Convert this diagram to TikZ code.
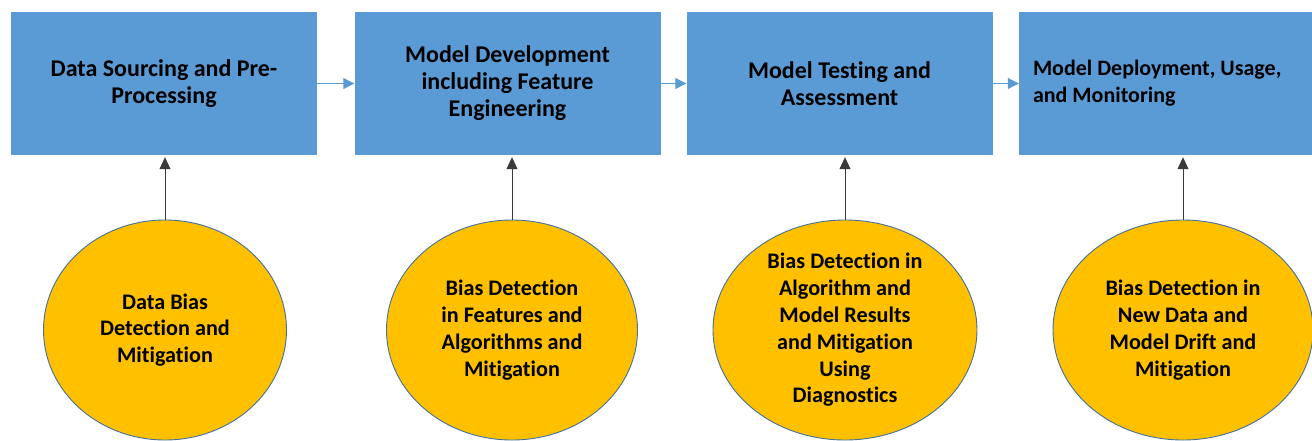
\documentclass[tikz,border=0pt]{standalone}
\usepackage{fontspec}
\setmainfont{Carlito}[Ligatures={NoCommon}]
\usetikzlibrary{positioning, shapes.geometric, arrows.meta}
\definecolor{stageblue}{HTML}{5B9BD5}
\definecolor{biasgold}{HTML}{FFC000}
\definecolor{rimblue}{HTML}{41719C}
\definecolor{tipgrey}{HTML}{3A3A3A}

\begin{document}
\begin{tikzpicture}[x=1pt,y=1pt,on grid,
    stage/.style={rectangle,fill=stageblue,minimum width=306pt,minimum height=143pt,
      inner sep=0pt,align=center,font=\bfseries\fontsize{24}{27}\selectfont},
    bias/.style={ellipse,fill=biasgold,draw=rimblue,line width=0.9pt,minimum height=220pt,
      inner sep=0pt,align=center,font=\bfseries\fontsize{22.2}{26.8}\selectfont},
    flow/.style={-{Triangle[length=11pt,width=11pt]},draw=stageblue,line width=1pt},
    feed/.style={-{Triangle[length=12pt,width=11pt]},draw=tipgrey,line width=1pt,shorten >=2pt}]
    
      \clip (0,0) rectangle (1312,-440);
    
      \node[stage]  (s_1) at (164,-83.5)      {Data Sourcing and Pre-\\Processing};
      \node[stage]  (s_2) [right=343.5pt of s_1] {Model Development\\including Feature\\Engineering};
      \node[stage]  (s_3) [right=332pt of s_2] {Model Testing and\\Assessment};
      \node[stage,align=flush left,text width=278pt,inner xsep=14pt,
            font=\bfseries\fontsize{22}{27}\selectfont]
                    (s_4) [right=332.5pt of s_3] {Model Deployment, Usage,\\and Monitoring};
    
      \node[bias,minimum width=243pt] (b_1) at (165,-330)  {Data Bias\\Detection and\\Mitigation};
      \node[bias,minimum width=251pt] (b_2) at (512,-330)  {Bias Detection\\in Features and\\Algorithms and\\Mitigation};
      \node[bias,minimum width=264pt] (b_3) at (845,-330)  {Bias Detection in\\Algorithm and\\Model Results\\and Mitigation\\Using\\Diagnostics};
      \node[bias,minimum width=260pt] (b_4) at (1183,-330) {Bias Detection in\\New Data and\\Model Drift and\\Mitigation};
    
      \foreach \a/\b in {1/2, 2/3, 3/4}
        \draw[flow] (s_\a.east) -- (s_\b.west);
      \foreach \k in {1,...,4}
        \draw[feed] (b_\k.north) -- (b_\k.north |- s_\k.south);
    \end{tikzpicture}
\end{document}
